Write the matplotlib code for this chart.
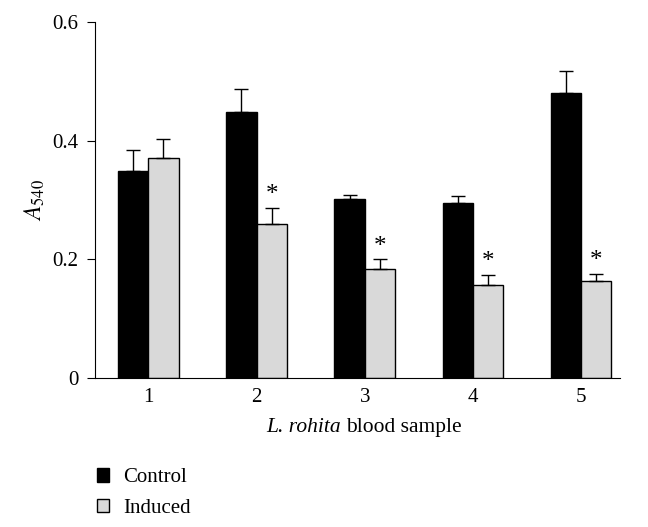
import numpy as np
import matplotlib
matplotlib.use("Agg")
import matplotlib.pyplot as plt
from matplotlib.offsetbox import TextArea, HPacker, AnchoredOffsetbox

plt.rcParams['font.family'] = ['Liberation Serif', 'DejaVu Serif']
plt.rcParams['mathtext.fontset'] = 'stix'

samples = ['1', '2', '3', '4', '5']
control = [0.349, 0.449, 0.302, 0.295, 0.481]
control_err = [0.035, 0.039, 0.006, 0.011, 0.036]
induced = [0.371, 0.259, 0.184, 0.156, 0.164]
induced_err = [0.032, 0.028, 0.016, 0.018, 0.011]
significant = [False, True, True, True, True]

fig = plt.figure(figsize=(6.48, 5.27), dpi=100)
ax = fig.add_axes([0.147, 0.283, 0.81, 0.675])

x = np.arange(1, len(samples) + 1)
w = 0.28
zeros = np.zeros(len(x))
ax.bar(x - w / 2, control, w, color='black', edgecolor='black', linewidth=1,
       yerr=[zeros, control_err], capsize=5, error_kw=dict(elinewidth=1, capthick=1, ecolor='black'),
       label='Control')
ax.bar(x + w / 2, induced, w, color='#d9d9d9', edgecolor='black', linewidth=1,
       yerr=[zeros, induced_err], capsize=5, error_kw=dict(elinewidth=1, capthick=1, ecolor='black'),
       label='Induced')

for xi, v, e, s in zip(x, induced, induced_err, significant):
    if s:
        ax.text(xi + w / 2, v + e + 0.003, '*', ha='center', va='bottom', fontsize=18)

ax.set_xlim(0.51, 5.36)
ax.set_ylim(0, 0.6)
ax.set_yticks([0, 0.2, 0.4, 0.6])
ax.set_yticklabels(['0', '0.2', '0.4', '0.6'])
ax.set_xticks(x)
ax.set_xticklabels(samples)
ax.tick_params(axis='y', direction='out', length=6, labelsize=15, pad=6)
ax.tick_params(axis='x', length=0, labelsize=15, pad=7)
ax.spines['top'].set_visible(False)
ax.spines['right'].set_visible(False)
ax.set_ylabel(r'$A_{540}$', fontsize=17, labelpad=4)

# x label: italic species name followed by roman text
xlab = HPacker(children=[TextArea('L. rohita', textprops=dict(fontsize=15.5, style='italic')),
                         TextArea('blood sample', textprops=dict(fontsize=15.5))],
               align='baseline', pad=0, sep=4)
box = AnchoredOffsetbox(loc='center', child=xlab, pad=0, frameon=False,
                        bbox_to_anchor=(0.562, 0.188), bbox_transform=fig.transFigure,
                        borderpad=0)
fig.add_artist(box)

fig.legend(loc='upper left', bbox_to_anchor=(0.12, 0.147), frameon=False, fontsize=15,
           handlelength=0.6, handleheight=0.6, handletextpad=0.7, labelspacing=0.55)

fig.savefig('out.png', dpi=100)
